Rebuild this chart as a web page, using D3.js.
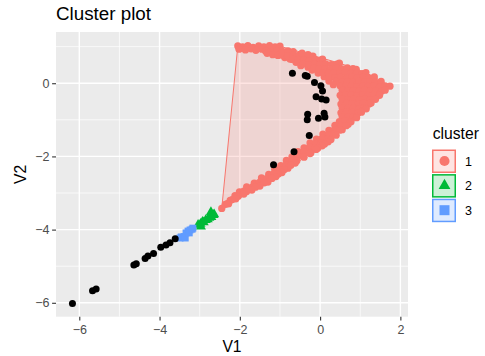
<!DOCTYPE html>
<html>
<head>
<meta charset="utf-8">
<script src="https://cdn.jsdelivr.net/npm/d3@7"></script>
<style>
  body { margin: 0; background: #fff; }
  svg { display: block; font-family: "Liberation Sans", Arial, sans-serif; }
</style>
</head>
<body>
<div id="chart"></div>
<script>
// cluster 1 (dense chevron of points)
const clusterOne = [
  [-2.05,1.02],[-1.93,0.99],[-1.80,1.03],[-1.67,0.98],[-1.53,1.02],[-1.40,0.99],[-1.26,1.03],[-1.12,0.99],[-1.00,1.01],
  [-1.98,0.95],[-1.72,0.94],[-1.45,0.93],[-2.02,0.93],[-1.86,0.91],[-1.60,0.90],
  [-1.36,0.88],[-1.22,0.86],[-1.08,0.89],[-0.94,0.87],[-0.80,0.88],[-0.67,0.86],
  [-1.32,0.82],[-1.18,0.78],[-1.05,0.76],[-0.88,0.70],[-0.75,0.66],[-0.60,0.57],
  [-0.95,0.77],[-0.81,0.75],[-0.67,0.77],[-0.53,0.76],[-0.39,0.74],[-0.30,0.78],[-0.45,0.82],[-0.18,0.74],
  [-0.69,0.65],[-0.55,0.63],[-0.41,0.64],[-0.27,0.62],[-0.13,0.65],[0.01,0.63],[0.06,0.66],
  [-0.48,0.48],[-0.30,0.44],[-0.20,0.36],[-0.05,0.28],[0.10,0.18],[0.22,0.06],
  [-0.42,0.53],[-0.28,0.51],[-0.14,0.52],[0.00,0.50],[0.14,0.53],[0.28,0.51],[0.42,0.52],[0.48,0.55],
  [-0.16,0.41],[-0.02,0.39],[0.12,0.40],[0.26,0.38],[0.40,0.41],[0.54,0.39],[0.68,0.42],[0.82,0.40],[0.90,0.38],
  [0.07,0.29],[0.21,0.27],[0.35,0.28],[0.49,0.26],[0.63,0.29],[0.77,0.27],[0.91,0.28],[1.05,0.26],[1.14,0.29],
  [0.23,0.17],[0.37,0.15],[0.51,0.16],[0.65,0.14],[0.79,0.17],[0.93,0.15],[1.07,0.16],[1.21,0.14],[1.35,0.17],
  [0.40,0.05],[0.54,0.03],[0.68,0.04],[0.82,0.02],[0.96,0.05],[1.10,0.03],[1.24,0.04],[1.38,0.02],[1.52,0.05],[0.33,-0.04],
  [0.50,-0.07],[0.64,-0.09],[0.78,-0.08],[0.92,-0.10],[1.06,-0.07],[1.20,-0.09],[1.34,-0.08],[1.48,-0.10],[1.62,-0.07],[1.74,-0.08],
  [0.55,-0.19],[0.69,-0.21],[0.83,-0.20],[0.97,-0.22],[1.11,-0.19],[1.25,-0.21],[1.39,-0.20],[1.53,-0.22],[1.62,-0.19],
  [0.50,-0.33],[0.64,-0.31],[0.78,-0.32],[0.92,-0.34],[1.06,-0.31],[1.20,-0.33],[1.34,-0.32],[1.48,-0.33],
  [0.55,-0.43],[0.69,-0.45],[0.83,-0.44],[0.97,-0.46],[1.11,-0.43],[1.25,-0.45],[1.38,-0.44],
  [0.52,-0.57],[0.66,-0.55],[0.80,-0.56],[0.94,-0.58],[1.08,-0.55],[1.22,-0.57],[1.27,-0.54],
  [0.55,-0.67],[0.69,-0.69],[0.83,-0.68],[0.97,-0.70],[1.11,-0.67],[1.15,-0.70],
  [0.52,-0.81],[0.66,-0.79],[0.80,-0.80],[0.94,-0.82],[1.03,-0.79],
  [0.55,-0.91],[0.69,-0.93],[0.83,-0.92],[0.91,-0.94],
  [0.48,-1.05],[0.62,-1.03],[0.77,-1.05],[0.70,-1.12],[0.55,-1.27],
  [0.37,-1.15],[0.51,-1.17],[0.65,-1.16],
  [0.22,-1.29],[0.36,-1.27],[0.50,-1.28],
  [0.07,-1.39],[0.21,-1.41],[0.35,-1.40],[0.40,-1.42],
  [-0.09,-1.53],[0.05,-1.51],[0.19,-1.52],[0.27,-1.54],[0.20,-1.60],
  [-0.25,-1.63],[-0.11,-1.65],[0.03,-1.64],[0.11,-1.66],[0.05,-1.71],
  [-0.40,-1.77],[-0.26,-1.75],[-0.12,-1.76],[-0.06,-1.78],[-0.10,-1.81],
  [-0.55,-1.87],[-0.41,-1.89],[-0.27,-1.88],[-0.23,-1.90],[-0.25,-1.92],
  [-0.70,-2.01],[-0.56,-1.99],[-0.42,-2.00],[-0.40,-2.02],
  [-0.84,-2.11],[-0.70,-2.13],[-0.58,-2.12],[-0.62,-2.18],
  [-0.98,-2.25],[-0.85,-2.23],[-0.73,-2.24],[-0.80,-2.32],
  [-1.13,-2.35],[-1.00,-2.37],[-0.89,-2.36],[-0.95,-2.44],
  [-1.28,-2.49],[-1.15,-2.47],[-1.04,-2.48],[-1.10,-2.55],
  [-1.46,-2.59],[-1.33,-2.61],[-1.20,-2.60],[-1.30,-2.70],
  [-1.64,-2.73],[-1.51,-2.71],[-1.39,-2.72],[-1.50,-2.81],
  [-1.83,-2.83],[-1.70,-2.85],[-1.61,-2.84],[-1.70,-2.92],
  [-2.01,-2.97],[-1.90,-2.95],[-1.83,-2.96],[-1.90,-3.03],
  [-2.12,-3.07],[-2.04,-3.09],[-2.10,-3.16],
  [-2.24,-3.20],[-2.19,-3.18],[-2.28,-3.29],
  [-2.36,-3.31],[-2.31,-3.29],
  [-2.45,-3.42]
];

const clusterTwo = [
  [-3.04,-3.87],[-2.98,-3.84],[-2.97,-3.92],[-2.93,-3.79],[-2.90,-3.80],[-2.85,-3.74],
  [-2.80,-3.72],[-2.76,-3.68],[-2.72,-3.52],[-2.71,-3.66],[-2.66,-3.60],[-2.64,-3.58]
];

const clusterThree = [
  [-3.49,-4.23],[-3.46,-4.20],[-3.39,-4.19],[-3.36,-4.23],[-3.34,-4.09],[-3.29,-4.04],
  [-3.26,-4.09],[-3.24,-4.01],[-3.19,-3.99],[-3.17,-3.96]
];

// points not assigned to any cluster
const outliers = [
  [-6.17,-6.02],[-5.67,-5.67],[-5.58,-5.62],[-4.64,-4.97],[-4.58,-4.93],[-4.36,-4.79],
  [-4.29,-4.72],[-4.15,-4.65],[-3.97,-4.48],[-3.84,-4.42],[-3.74,-4.36],[-3.61,-4.25],
  [-0.69,0.27],[-0.37,0.21],[-0.32,0.19],[-0.14,0.02],[0.02,-0.07],[0.06,-0.21],
  [-0.10,-0.37],[0.04,-0.43],[0.15,-0.46],[-0.31,-0.85],[-0.32,-1.00],[-0.04,-0.96],
  [0.10,-0.82],[0.12,-0.92],[-0.27,-1.43],[-0.65,-1.87],[-1.16,-2.23]
];

const clusterNames = ["1", "2", "3"];
const clusterColors = ["#F8766D", "#00BA38", "#619CFF"];
const xTicks = [-6, -4, -2, 0, 2];
const yTicks = [-6, -4, -2, 0];
const xMinor = [-5, -3, -1, 1];
const yMinor = [-5, -3, -1, 1];

const margin = {top: 32, right: 77, bottom: 39.3, left: 56};
const width = 485 - margin.left - margin.right;
const height = 356 - margin.top - margin.bottom;

const svg = d3.select("#chart")
  .append("svg")
  .attr("width", 485)
  .attr("height", 356);

const g = svg.append("g")
  .attr("transform", `translate(${margin.left}, ${margin.top})`);

const x = d3.scaleLinear().domain([-6.58, 2.19]).range([0, width]);
const y = d3.scaleLinear().domain([-6.38, 1.40]).range([height, 0]);

g.append("rect")
  .attr("width", width)
  .attr("height", height)
  .attr("fill", "#EBEBEB");

// grid
g.append("g").selectAll("line")
  .data(xMinor).enter().append("line")
  .attr("x1", d => x(d)).attr("x2", d => x(d))
  .attr("y1", 0).attr("y2", height)
  .attr("stroke", "#fff").attr("stroke-width", 0.7);
g.append("g").selectAll("line")
  .data(yMinor).enter().append("line")
  .attr("y1", d => y(d)).attr("y2", d => y(d))
  .attr("x1", 0).attr("x2", width)
  .attr("stroke", "#fff").attr("stroke-width", 0.7);
g.append("g").selectAll("line")
  .data(xTicks).enter().append("line")
  .attr("x1", d => x(d)).attr("x2", d => x(d))
  .attr("y1", 0).attr("y2", height)
  .attr("stroke", "#fff").attr("stroke-width", 1.4);
g.append("g").selectAll("line")
  .data(yTicks).enter().append("line")
  .attr("y1", d => y(d)).attr("y2", d => y(d))
  .attr("x1", 0).attr("x2", width)
  .attr("stroke", "#fff").attr("stroke-width", 1.4);

// hulls
const clusters = [clusterOne, clusterTwo, clusterThree];
const line = d3.line().x(d => x(d[0])).y(d => y(d[1])).curve(d3.curveLinearClosed);

g.append("g").selectAll("path")
  .data(clusters).enter().append("path")
  .attr("d", pts => line(d3.polygonHull(pts)))
  .attr("fill", (d, i) => clusterColors[i])
  .attr("fill-opacity", 0.2)
  .attr("stroke", (d, i) => clusterColors[i])
  .attr("stroke-width", 1);

// points
const shapes = [d3.symbolCircle, d3.symbolTriangle, d3.symbolSquare];
const sizes = [42, 44, 48];
clusters.forEach((pts, i) => {
  g.append("g").selectAll("path")
    .data(pts).enter().append("path")
    .attr("transform", d => `translate(${x(d[0])}, ${y(d[1])})`)
    .attr("d", d3.symbol().type(shapes[i]).size(sizes[i]))
    .attr("fill", clusterColors[i]);
});

g.append("g").selectAll("circle")
  .data(outliers).enter().append("circle")
  .attr("cx", d => x(d[0]))
  .attr("cy", d => y(d[1]))
  .attr("r", 3.5)
  .attr("fill", "#000");

// axes
const styleAxis = sel => {
  sel.select(".domain").remove();
  sel.selectAll(".tick line").attr("stroke", "#333333").attr("stroke-width", 1.1);
  sel.selectAll(".tick text")
    .attr("fill", "#4D4D4D")
    .style("font-size", "12.5px")
    .style("font-family", "'Liberation Sans', Arial, sans-serif");
};

g.append("g")
  .attr("transform", `translate(0, ${height})`)
  .call(d3.axisBottom(x).tickValues(xTicks).tickSize(3.9).tickPadding(4.4))
  .call(styleAxis);

g.append("g")
  .call(d3.axisLeft(y).tickValues(yTicks).tickSize(3.9).tickPadding(2.6))
  .call(styleAxis);

// titles
svg.append("text")
  .attr("x", 56).attr("y", 20)
  .style("font-size", "18.8px")
  .text("Cluster plot");

svg.append("text")
  .attr("x", margin.left + width / 2).attr("y", 352)
  .attr("text-anchor", "middle")
  .style("font-size", "15.7px")
  .text("V1");

svg.append("text")
  .attr("transform", `translate(25.5, ${margin.top + height / 2}) rotate(-90)`)
  .attr("text-anchor", "middle")
  .style("font-size", "15.7px")
  .text("V2");

// legend
const legend = svg.append("g").attr("transform", "translate(432, 0)");

legend.append("text")
  .attr("x", 0.7).attr("y", 139)
  .style("font-size", "15.7px")
  .text("cluster");

const keys = legend.selectAll(".key")
  .data(clusterNames).enter().append("g")
  .attr("class", "key")
  .attr("transform", (d, i) => `translate(0, ${149.5 + i * 24.6})`);

keys.append("rect")
  .attr("x", 0.75).attr("y", 0.75)
  .attr("width", 22.5).attr("height", 22)
  .attr("fill", (d, i) => clusterColors[i])
  .attr("fill-opacity", 0.2)
  .attr("stroke", (d, i) => clusterColors[i])
  .attr("stroke-width", 1.5);

const legendSizes = [80, 60, 100];
keys.append("path")
  .attr("transform", "translate(12.5, 11.5)")
  .attr("d", (d, i) => d3.symbol().type(shapes[i]).size(legendSizes[i])())
  .attr("fill", (d, i) => clusterColors[i]);

keys.append("text")
  .attr("x", 33).attr("y", 11.5)
  .attr("dy", "0.36em")
  .style("font-size", "12.5px")
  .text(d => d);
</script>
</body>
</html>
